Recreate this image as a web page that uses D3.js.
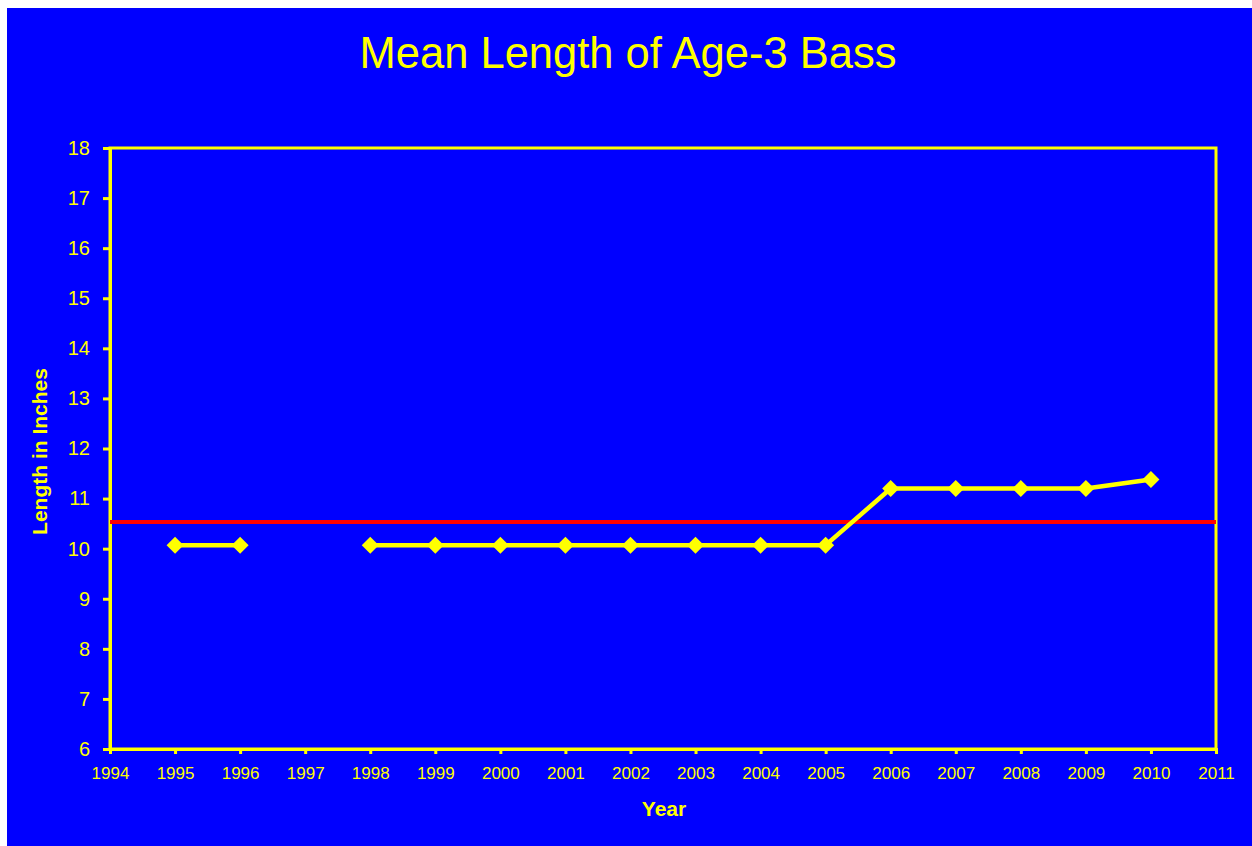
<!DOCTYPE html>
<html>
<head>
<meta charset="utf-8">
<script src="https://cdn.jsdelivr.net/npm/d3@7"></script>
<style>
  html, body { margin: 0; padding: 0; background: #ffffff; }
  svg { display: block; }
  text { font-family: "Liberation Sans", Arial, sans-serif; fill: #ffff00; }
</style>
</head>
<body>
<svg id="chart" width="1252" height="846"></svg>
<script>
const years = [1995, 1996, 1997, 1998, 1999, 2000, 2001, 2002, 2003, 2004, 2005, 2006, 2007, 2008, 2009, 2010];
const meanLength = [10.07, 10.07, null, 10.07, 10.07, 10.07, 10.07, 10.07, 10.07, 10.07, 10.07, 11.2, 11.2, 11.2, 11.2, 11.38];
const referenceLength = 10.53;
const xTicks = [1994, 1995, 1996, 1997, 1998, 1999, 2000, 2001, 2002, 2003, 2004, 2005, 2006, 2007, 2008, 2009, 2010, 2011];
const yTicks = [6, 7, 8, 9, 10, 11, 12, 13, 14, 15, 16, 17, 18];

const svg = d3.select("#chart");
const W = 1252, H = 846;
const plot = { left: 110, right: 1216, top: 148, bottom: 749 };

svg.append("rect").attr("x", 7).attr("y", 8).attr("width", W - 7).attr("height", H - 8).attr("fill", "#0000ff");

const x = d3.scaleLinear().domain([1994, 2011]).range([plot.left, plot.right]);
const y = d3.scaleLinear().domain([6, 18]).range([plot.bottom, plot.top]);

// Title
svg.append("text").attr("x", 628).attr("y", 68).attr("text-anchor", "middle")
  .style("font-size", "43.5px").text("Mean Length of Age-3 Bass");

// Plot frame
svg.append("rect").attr("x", plot.left).attr("y", plot.top)
  .attr("width", plot.right - plot.left).attr("height", plot.bottom - plot.top)
  .attr("fill", "none").attr("stroke", "#ffff00").attr("stroke-width", 3);

// Y axis
const yAxis = d3.axisLeft(y).tickValues(yTicks).tickSize(7).tickPadding(13).tickFormat(d3.format("d"));
const gy = svg.append("g").attr("transform", `translate(${plot.left},0)`).call(yAxis);
gy.select(".domain").attr("stroke", "#ffff00").attr("stroke-width", 3);
gy.selectAll(".tick line").attr("stroke", "#ffff00").attr("stroke-width", 3);
gy.selectAll(".tick text").attr("fill", "#ffff00").style("font-size", "20px")
  .style("font-family", "'Liberation Sans', Arial, sans-serif");

// X axis
const xAxis = d3.axisBottom(x).tickValues(xTicks).tickSize(5).tickPadding(13).tickFormat(d3.format("d"));
const gx = svg.append("g").attr("transform", `translate(0,${plot.bottom})`).call(xAxis);
gx.select(".domain").attr("stroke", "#ffff00").attr("stroke-width", 3);
gx.selectAll(".tick line").attr("stroke", "#ffff00").attr("stroke-width", 3);
gx.selectAll(".tick text").attr("fill", "#ffff00").style("font-size", "17px")
  .style("font-family", "'Liberation Sans', Arial, sans-serif");

// Axis titles
svg.append("text").attr("transform", `translate(47,${(plot.top + plot.bottom) / 2 + 3}) rotate(-90)`)
  .attr("text-anchor", "middle").style("font-size", "21px").style("font-weight", "bold")
  .text("Length in Inches");
svg.append("text").attr("x", (plot.left + plot.right) / 2 + 1).attr("y", 816).attr("text-anchor", "middle")
  .style("font-size", "21px").style("font-weight", "bold").text("Year");

// Reference line
svg.append("line").attr("x1", plot.left).attr("x2", plot.right)
  .attr("y1", y(referenceLength)).attr("y2", y(referenceLength))
  .attr("stroke", "#ff0000").attr("stroke-width", 4);

// Data line
const data = years.map((yr, i) => ({ year: yr, value: meanLength[i] }));
const line = d3.line().defined(d => d.value != null).x(d => x(d.year)).y(d => y(d.value));
svg.append("path").datum(data).attr("d", line).attr("fill", "none")
  .attr("stroke", "#ffff00").attr("stroke-width", 4.5).attr("stroke-linejoin", "round");

// Markers
svg.selectAll(".mk").data(data.filter(d => d.value != null)).enter().append("path")
  .attr("class", "mk")
  .attr("transform", d => `translate(${x(d.year)},${y(d.value)})`)
  .attr("d", "M0,-8.5L8.5,0L0,8.5L-8.5,0Z")
  .attr("fill", "#ffff00");
</script>
</body>
</html>
